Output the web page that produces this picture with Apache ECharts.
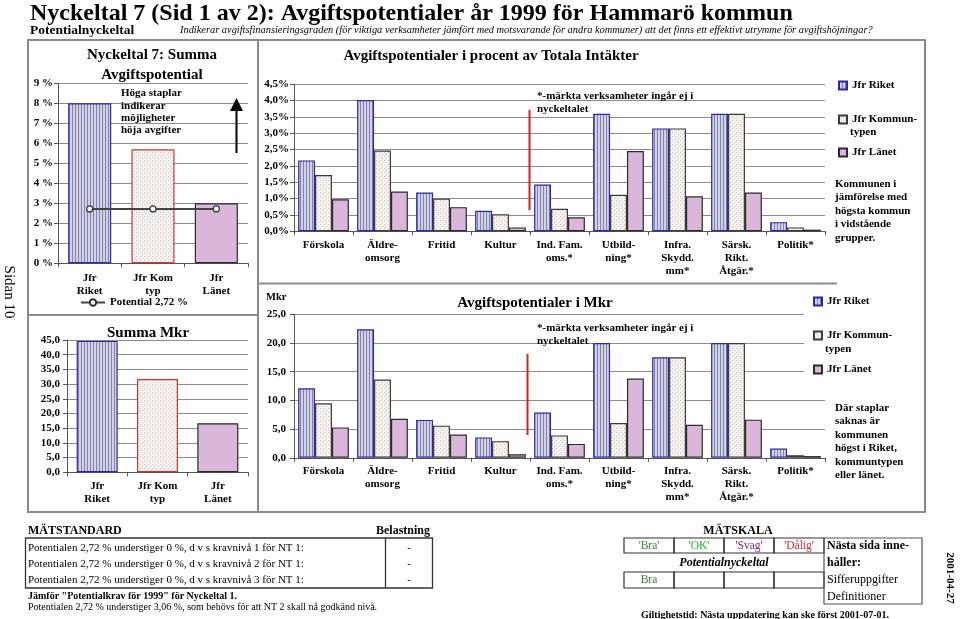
<!DOCTYPE html>
<html><head><meta charset="utf-8">
<script src="https://cdn.jsdelivr.net/npm/echarts@6/dist/echarts.min.js"></script>
<style>html,body{margin:0;padding:0;background:#fff}#c{width:960px;height:619px}</style>
</head><body><div id="c"></div>
<script>
// ---------- data ----------
const leftCategories = ['Jfr\nRiket', 'Jfr Kom\ntyp', 'Jfr\nLänet'];
const summaPct = [8.0, 5.7, 3.0];
const potentialPct = [2.72, 2.72, 2.72];
const summaMkr = [44.7, 31.7, 16.7];

const categories = ['Förskola', 'Äldre-\nomsorg', 'Fritid', 'Kultur', 'Ind. Fam.\noms.*', 'Utbild-\nning*', 'Infra.\nSkydd.\nmm*', 'Särsk.\nRikt.\nÅtgär.*', 'Politik*'];
const pctRiket = [2.17, 4.02, 1.19, 0.63, 1.43, 3.60, 3.15, 3.60, 0.28];
const pctKom   = [1.72, 2.47, 1.00, 0.52, 0.69, 1.12, 3.15, 3.60, 0.12];
const pctLan   = [0.98, 1.22, 0.74, 0.12, 0.43, 2.46, 1.07, 1.19, 0.05];
const mkrRiket = [12.1, 22.4, 6.6, 3.55, 7.9, 20.0, 17.5, 20.0, 1.6];
const mkrKom   = [9.5, 13.65, 5.6, 2.9, 3.9, 6.05, 17.5, 20.0, 0.45];
const mkrLan   = [5.3, 6.8, 4.05, 0.62, 2.42, 13.8, 5.75, 6.65, 0.3];

const seriesNames = ['Jfr Riket', 'Jfr Kommuntypen', 'Jfr Länet'];
const potentialName = 'Potential 2,72 %';

// ---------- styles ----------
const FF = '"Liberation Serif","Times New Roman",serif';
function patStripe() {
  const c = document.createElement('canvas'); c.width = 3; c.height = 1;
  const g = c.getContext('2d');
  g.fillStyle = '#d2d2e6'; g.fillRect(0, 0, 3, 1);
  g.fillStyle = '#8282aa'; g.fillRect(0, 0, 1, 1);
  return { image: c, repeat: 'repeat' };
}
function patDots() {
  const c = document.createElement('canvas'); c.width = 4; c.height = 4;
  const g = c.getContext('2d');
  g.fillStyle = '#f6f2ef'; g.fillRect(0, 0, 4, 4);
  g.fillStyle = '#cdc3bd'; g.fillRect(0, 0, 1, 1); g.fillRect(2, 2, 1, 1);
  return { image: c, repeat: 'repeat' };
}
const colRiket = patStripe();
const colKom = patDots();
const colLan = '#dab6da';

const leftStyles = [
  { color: colRiket, borderColor: '#2a2aa8', borderWidth: 1.2 },
  { color: colKom, borderColor: '#c83a3a', borderWidth: 1.2 },
  { color: colLan, borderColor: '#2a2a2a', borderWidth: 1.2 }
];
const midStyles = [
  { color: colRiket, borderColor: '#2a2aa8', borderWidth: 1.2 },
  { color: colKom, borderColor: '#3a3a3a', borderWidth: 1.2 },
  { color: colLan, borderColor: '#2a2a2a', borderWidth: 1.2 }
];

const labelBase = { fontFamily: FF, fontWeight: 'bold', fontSize: 11, color: '#000' };

function xCat(gridIndex, data, margin) {
  return {
    type: 'category', gridIndex, data,
    axisLine: { show: true, lineStyle: { color: '#555', width: 1 } },
    axisTick: { show: true, length: 4, interval: 0, lineStyle: { color: '#555' } },
    axisLabel: Object.assign({ interval: 0, margin, lineHeight: 13 }, labelBase),
    splitLine: { show: false }
  };
}
function yVal(gridIndex, max, interval, fmt, margin) {
  return {
    type: 'value', gridIndex, min: 0, max, interval,
    axisLine: { show: true, lineStyle: { color: '#555', width: 1 } },
    axisTick: { show: true, length: 4, lineStyle: { color: '#555' } },
    axisLabel: Object.assign({ formatter: fmt, margin }, labelBase),
    splitLine: { show: true, lineStyle: { color: '#8c8c8c', width: 1 } }
  };
}
const fPctInt = v => v + ' %';
const fPct1 = v => v.toFixed(1).replace('.', ',') + '%';
const fNum1 = v => v.toFixed(1).replace('.', ',');

// ---------- graphics ----------
const G = [];
function T(x, y, text, font, opt) {
  opt = opt || {};
  G.push({
    type: 'text', x, y, rotation: opt.rot || 0, z: 50,
    style: { text, font, fill: opt.fill || '#000', textAlign: opt.align || 'left', textVerticalAlign: 'middle' }
  });
}
function L(x1, y1, x2, y2, stroke, w, z) {
  G.push({ type: 'line', z: z || 40, shape: { x1, y1, x2, y2 }, style: { stroke, lineWidth: w } });
}
function R(x, y, w, h, stroke, lw, fill, z) {
  G.push({ type: 'rect', z: z || 40, shape: { x, y, width: w, height: h }, style: { fill: fill || 'none', stroke: stroke || 'none', lineWidth: lw || 1 } });
}

// header
T(30, 14, 'Nyckeltal 7 (Sid 1 av 2): Avgiftspotentialer år 1999 för Hammarö kommun', 'bold 24px ' + FF);
T(30, 31, 'Potentialnyckeltal', 'bold 13.5px ' + FF);
T(180, 30, 'Indikerar avgiftsfinansieringsgraden (för viktiga verksamheter jämfört med motsvarande för andra kommuner) att det finns ett effektivt utrymme för avgiftshöjningar?', 'italic 10.4px ' + FF);

// frames
R(28, 40, 897, 472, '#8a8a8a', 2);
L(258, 40, 258, 512, '#8a8a8a', 2);
L(28, 315, 258, 315, '#8a8a8a', 2);
L(258, 283.5, 837, 283.5, '#8a8a8a', 2);
T(9, 292, 'Sidan 10', '15px ' + FF, { rot: -Math.PI / 2, align: 'center' });

// left panel texts
T(152, 55, 'Nyckeltal 7: Summa', 'bold 15px ' + FF, { align: 'center' });
T(152, 75, 'Avgiftspotential', 'bold 15px ' + FF, { align: 'center' });
T(121, 93, 'Höga staplar', 'bold 11px ' + FF);
T(121, 106, 'indikerar', 'bold 11px ' + FF);
T(121, 118, 'möjligheter', 'bold 11px ' + FF);
T(121, 130.5, 'höja avgifter', 'bold 11px ' + FF);
L(236.5, 153, 236.5, 110, '#000', 2);
G.push({ type: 'polygon', z: 40, shape: { points: [[230, 111], [243, 111], [236.5, 98]] }, style: { fill: '#000' } });
T(148, 333, 'Summa Mkr', 'bold 15px ' + FF, { align: 'center' });

// middle titles and notes
T(491, 56, 'Avgiftspotentialer i procent av Totala Intäkter', 'bold 15px ' + FF, { align: 'center' });
T(535, 303, 'Avgiftspotentialer i Mkr', 'bold 15px ' + FF, { align: 'center' });
T(266, 297, 'Mkr', 'bold 10.5px ' + FF);
T(537, 96, '*-märkta verksamheter ingår ej i', 'bold 11px ' + FF);
T(537, 109, 'nyckeltalet', 'bold 11px ' + FF);
T(537, 328, '*-märkta verksamheter ingår ej i', 'bold 11px ' + FF);
T(537, 341, 'nyckeltalet', 'bold 11px ' + FF);
L(529.5, 110, 529.5, 210, '#d42020', 2);
L(527.5, 354, 527.5, 435, '#d42020', 2);

// legend extras
T(850, 132, 'typen', 'bold 11px ' + FF);
T(825, 349, 'typen', 'bold 11px ' + FF);
R(804, 292, 110, 90, null, 1, '#fff', 3);
['Kommunen i', 'jämförelse med', 'högsta kommun', 'i vidstående', 'grupper.'].forEach((s, i) => T(835, 184 + i * 13.5, s, 'bold 11px ' + FF));
['Där staplar', 'saknas är', 'kommunen', 'högst i Riket,', 'kommuntypen', 'eller länet.'].forEach((s, i) => T(835, 408 + i * 13.5, s, 'bold 11px ' + FF));

// bottom: MÄTSTANDARD
T(28, 531, 'MÄTSTANDARD', 'bold 12px ' + FF);
T(376, 531, 'Belastning', 'bold 12px ' + FF);
R(25.5, 538, 407, 50, '#333', 1.3);
L(385.5, 538, 385.5, 588, '#333', 1.3);
[1, 2, 3].forEach((k, i) => {
  T(28, 548 + i * 16.3, 'Potentialen 2,72 % understiger 0 %, d v s kravnivå ' + k + ' för NT 1:', '11px ' + FF);
  T(409, 548 + i * 16.3, '-', '11px ' + FF, { align: 'center' });
});
T(28, 596, 'Jämför "Potentialkrav för 1999" för Nyckeltal 1.', 'bold 10px ' + FF);
T(28, 607, 'Potentialen 2,72 % understiger 3,06 %, som behövs för att NT 2 skall nå godkänd nivå.', '10px ' + FF);

// bottom: MÄTSKALA
T(738, 531, 'MÄTSKALA', 'bold 12px ' + FF, { align: 'center' });
const scaleTexts = ["'Bra'", "'OK'", "'Svag'", "'Dålig'"];
const scaleCols = ['#2e8b2e', '#20b020', '#8a1a8a', '#d02a2a'];
for (let i = 0; i < 4; i++) {
  R(624 + i * 50, 538, 50, 15, '#333', 1.2);
  T(649 + i * 50, 545.5, scaleTexts[i], '11.5px ' + FF, { align: 'center', fill: scaleCols[i] });
  R(624 + i * 50, 572, 50, 16, '#333', 1.2);
}
T(724, 563, 'Potentialnyckeltal', 'italic bold 12px ' + FF, { align: 'center' });
T(649, 580, 'Bra', '11.5px ' + FF, { align: 'center', fill: '#2e8b2e' });
R(824, 538, 98, 66, '#555', 1.2);
T(827, 546, 'Nästa sida inne-', 'bold 12px ' + FF);
T(827, 563, 'håller:', 'bold 12px ' + FF);
T(827, 580, 'Sifferuppgifter', '12px ' + FF);
T(827, 597, 'Definitioner', '12px ' + FF);
T(765, 615, 'Giltighetstid: Nästa uppdatering kan ske först 2001-07-01.', 'bold 10px ' + FF, { align: 'center' });
T(950, 578, '2001-04-27', 'bold 11px ' + FF, { rot: -Math.PI / 2, align: 'center' });

// ---------- legends ----------
const legBase = { orient: 'horizontal', padding: 0, itemWidth: 8, itemHeight: 8, icon: 'rect', z: 10, textStyle: { fontFamily: FF, fontWeight: 'bold', fontSize: 11, color: '#000' }, selectedMode: false };
const legFmt = n => n === 'Jfr Kommuntypen' ? 'Jfr Kommun-' : n;
const legends = [
  Object.assign({}, legBase, { data: [seriesNames[0]], left: 838, top: 80, formatter: legFmt }),
  Object.assign({}, legBase, { data: [seriesNames[1]], left: 838, top: 114, formatter: legFmt }),
  Object.assign({}, legBase, { data: [seriesNames[2]], left: 838, top: 147, formatter: legFmt }),
  Object.assign({}, legBase, { data: [seriesNames[0]], left: 813, top: 296, formatter: legFmt }),
  Object.assign({}, legBase, { data: [seriesNames[1]], left: 813, top: 330, formatter: legFmt }),
  Object.assign({}, legBase, { data: [seriesNames[2]], left: 813, top: 364, formatter: legFmt }),
  Object.assign({}, legBase, { data: [potentialName], left: 80, top: 297, itemWidth: 24 })
];
delete legends[6].icon;

// ---------- series ----------
function midBars(xi, vals) {
  return vals.map((v, k) => ({
    type: 'bar', name: seriesNames[k], xAxisIndex: xi, yAxisIndex: xi,
    data: v, barGap: '0%', barCategoryGap: '14%', itemStyle: midStyles[k], z: 2
  }));
}

const option = {
  animation: false,
  backgroundColor: '#fff',
  textStyle: { fontFamily: FF },
  grid: [
    { left: 58, top: 83.3, width: 190, height: 180 },
    { left: 67, top: 340, width: 181, height: 132.3 },
    { left: 294, top: 84.3, width: 531, height: 147 },
    { left: 294, top: 314.3, width: 531, height: 143.5 }
  ],
  xAxis: [
    xCat(0, leftCategories, 8),
    xCat(1, leftCategories, 7),
    xCat(2, categories, 7),
    xCat(3, categories, 7)
  ],
  yAxis: [
    yVal(0, 9, 1, fPctInt, 5),
    yVal(1, 45, 5, fNum1, 7),
    yVal(2, 4.5, 0.5, fPct1, 5),
    yVal(3, 25, 5, fNum1, 8)
  ],
  legend: legends,
  series: [
    { type: 'bar', name: 'Summa %', xAxisIndex: 0, yAxisIndex: 0, barWidth: '68%', z: 2,
      data: summaPct.map((v, i) => ({ value: v, itemStyle: leftStyles[i] })) },
    { type: 'line', name: potentialName, xAxisIndex: 0, yAxisIndex: 0, data: potentialPct, z: 5,
      symbol: 'circle', symbolSize: 6, lineStyle: { color: '#444', width: 2 },
      itemStyle: { color: '#fff', borderColor: '#333', borderWidth: 1.2 } },
    { type: 'bar', name: 'Summa Mkr', xAxisIndex: 1, yAxisIndex: 1, barWidth: '68%', z: 2,
      data: summaMkr.map((v, i) => ({ value: v, itemStyle: leftStyles[i] })) }
  ].concat(midBars(2, [pctRiket, pctKom, pctLan]), midBars(3, [mkrRiket, mkrKom, mkrLan])),
  graphic: { elements: G }
};

const chart = echarts.init(document.getElementById('c'), null, { renderer: 'canvas' });
chart.setOption(option);
</script>
</body></html>
